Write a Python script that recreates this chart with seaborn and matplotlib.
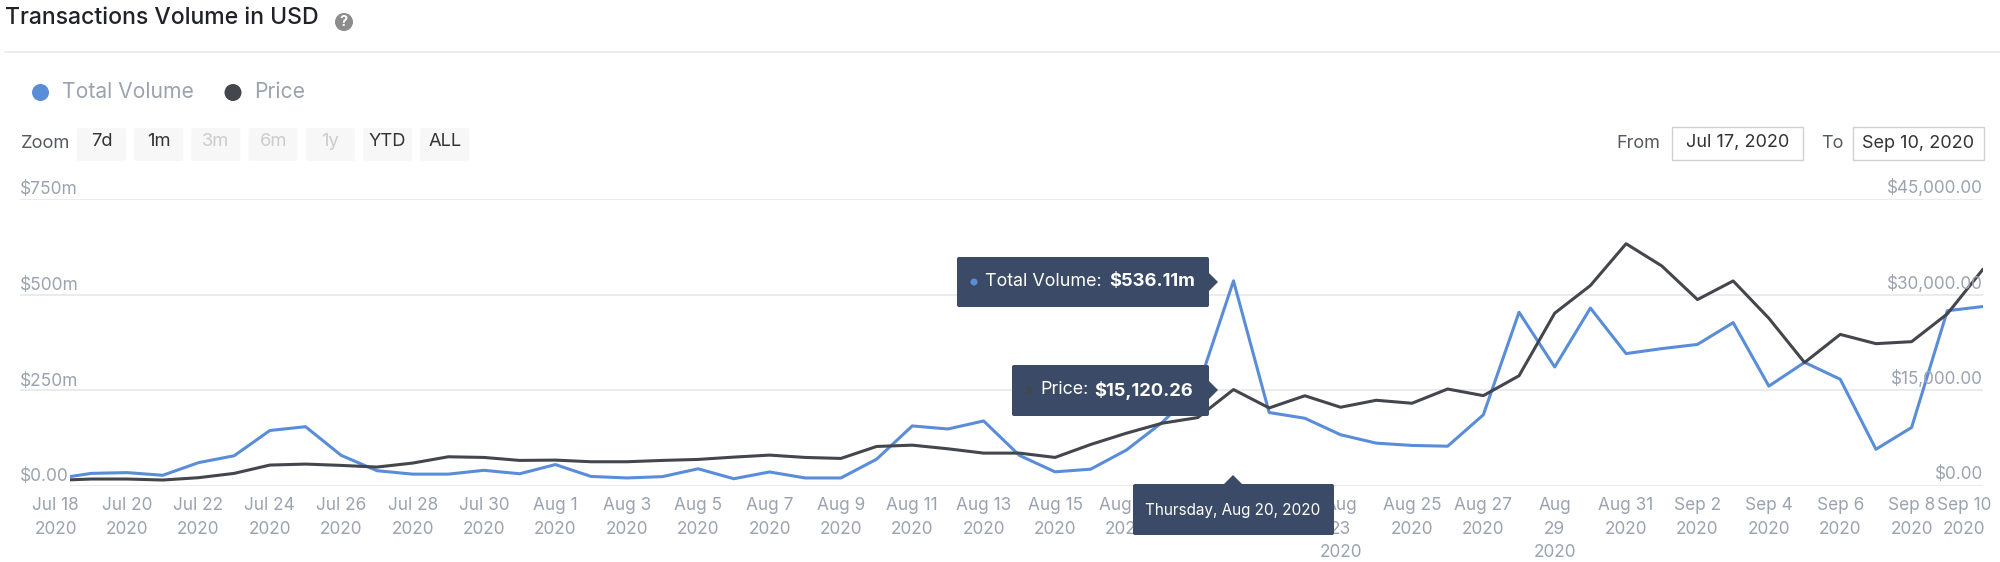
import pandas as pd
import matplotlib
matplotlib.use("Agg")
import matplotlib.pyplot as plt
import matplotlib.transforms as mtrans
from matplotlib.patches import Circle, FancyBboxPatch, Polygon, Rectangle
import seaborn as sns

# values, one per day from Jul 17 to Sep 10 2020
dates = pd.date_range("2020-07-17", "2020-09-10", freq="D")
total_volume = [11, 19, 33, 35, 28, 61, 79, 145, 155, 80, 40, 31, 31, 41, 32,
                56, 25, 21, 24.5, 45, 19, 36.7, 21, 21, 70, 157, 149, 170, 80, 37, 44,
                94, 166, 256, 536.11, 192, 177, 134, 112, 106, 104, 186, 454, 311, 465, 346,
                359, 370, 427, 261, 323, 279, 96, 153, 458, 469]
price = [830, 885, 1094, 1094, 937, 1302, 1979, 3281, 3437, 3229, 2969, 3594, 4583, 4479, 4010,
         4062, 3802, 3802, 4010, 4167, 4531, 4844, 4479, 4323, 6198, 6406, 5833, 5156, 5156, 4479, 6510,
         8281, 9844, 10729, 15120.26, 12240, 14150, 12350, 13442, 12975, 15207, 14169, 17283, 27100, 31434, 37987,
         34506, 29232, 32150, 26300, 19359, 23771, 22318, 22630, 26988, 33994]

tick_dates = pd.date_range("2020-07-18", "2020-09-10", freq="2D")
tick_labels = [d.strftime("%b ") + str(d.day) + "\n2020" for d in tick_dates]
wrapped = {"2020-08-23": "Aug\n23\n2020", "2020-08-29": "Aug\n29\n2020"}
tick_labels = [wrapped.get(str(d.date()), l) for d, l in zip(tick_dates, tick_labels)]

vol_ticks = [0, 250, 500, 750]
vol_labels = ["$0.00", "$250m", "$500m", "$750m"]
price_ticks = [0, 15000, 30000, 45000]
price_labels = ["$0.00", "$15,000.00", "$30,000.00", "$45,000.00"]
zoom_buttons = ["7d", "1m", "3m", "6m", "1y", "YTD", "ALL"]
zoom_disabled = ["3m", "6m", "1y"]

BLUE = "#5a8dd8"
DARK = "#43464d"
GRID = "#e8e9eb"
GREY = "#9aa3af"
NAVY = "#3b4a66"

df = pd.DataFrame({"date": dates, "volume": total_volume, "price": price})

sns.set_style("white")
plt.rcParams["font.family"] = ["Inter", "DejaVu Sans"]

W, H = 2000, 562
fig = plt.figure(figsize=(W / 100, H / 100), dpi=100)
ax = fig.add_axes([20 / W, 1 - 486 / H, 1963 / W, 287 / H])
ax2 = ax.twinx()

sns.lineplot(data=df, x="date", y="volume", ax=ax, color=BLUE, linewidth=2.2, zorder=3)
sns.lineplot(data=df, x="date", y="price", ax=ax2, color=DARK, linewidth=2.2, zorder=3)

ax.set_xlim(dates[0], dates[-1])
ax.set_ylim(0, 750)
ax2.set_ylim(0, 45000)
ax.set_xlabel("")
ax.set_ylabel("")
ax2.set_xlabel("")
ax2.set_ylabel("")
ax.set_yticks(vol_ticks)
ax.set_yticklabels([])
ax2.set_yticks(price_ticks)
ax2.set_yticklabels([])
ax.grid(axis="y", color=GRID, linewidth=1.3)
ax.grid(axis="x", visible=False)
ax2.grid(False)
for a in (ax, ax2):
    a.tick_params(axis="y", length=0)
    for side in a.spines:
        a.spines[side].set_visible(False)

ax.set_xticks(tick_dates)
ax.set_xticklabels(tick_labels, fontsize=12.4, color=GREY, linespacing=1.5)
ax.tick_params(axis="x", length=0, pad=8)
# last label is pushed back so it stays inside the chart
last = ax.get_xticklabels()[-1]
last.set_transform(last.get_transform() + mtrans.ScaledTranslation(-19 / 100, 0, fig.dpi_scale_trans))

# y labels sit just above their gridlines
for v, l in zip(vol_ticks, vol_labels):
    box = dict(facecolor="white", edgecolor="none", pad=1) if v == 0 else None
    ax2.annotate(l, (0, v), xycoords=ax.get_yaxis_transform(), xytext=(0, 6.5), textcoords="offset points",
                 ha="left", va="center", fontsize=12.5, color=GREY, bbox=box, zorder=10)
for v, l in zip(price_ticks, price_labels):
    ax2.annotate(l, (1, v), xycoords=ax2.get_yaxis_transform(), xytext=(0, 8), textcoords="offset points",
                 ha="right", va="center", fontsize=12.3, color=GREY, zorder=10)

# overlay in pixel coordinates for the page furniture and tooltips
ov = fig.add_axes([0, 0, 1, 1], zorder=20)
ov.set_xlim(0, W)
ov.set_ylim(H, 0)
ov.axis("off")
ov.patch.set_alpha(0)

ov.text(5, 18, "Transactions Volume in USD", fontsize=16.6, fontweight="medium", color="#1f2329", va="center")
ov.add_patch(Circle((344, 22), 9, color="#8c8c8c", lw=0))
ov.text(344, 22, "?", fontsize=10.5, fontweight="bold", color="white", ha="center", va="center")
ov.plot([5, 2000], [52, 52], color=GRID, lw=1.2)

# legend
ov.add_patch(Circle((40.5, 92.5), 8.5, color=BLUE, lw=0))
ov.text(62, 92.5, "Total Volume", fontsize=15.2, color=GREY, va="center")
ov.add_patch(Circle((233, 92.5), 8.5, color=DARK, lw=0))
ov.text(254, 92.5, "Price", fontsize=15.2, color=GREY, va="center")

# zoom buttons
ov.text(20.5, 144, "Zoom", fontsize=13.2, color="#555a60", va="center")
for i, b in enumerate(zoom_buttons):
    x0 = 77 + i * 57.2
    ov.add_patch(FancyBboxPatch((x0, 128), 49, 33, boxstyle="round,pad=0,rounding_size=2",
                                facecolor="#f7f7f7", edgecolor="none"))
    ov.text(x0 + 24.5, 142, b, fontsize=13.2, ha="center", va="center",
            color="#cccccc" if b in zoom_disabled else "#333333")

# date range inputs
ov.text(1616, 143, "From", fontsize=13, color="#555a60", va="center")
ov.text(1821, 143, "To", fontsize=13, color="#555a60", va="center")
for x0, w, s in [(1672, 131, "Jul 17, 2020"), (1853, 131, "Sep 10, 2020")]:
    ov.add_patch(Rectangle((x0, 127), w, 33, facecolor="white", edgecolor="#d0d0d0", lw=1))
    ov.text(x0 + w / 2, 143, s, fontsize=13, color="#333333", ha="center", va="center")

# tooltips
def tip_box(x0, x1, y0, y1):
    ov.add_patch(FancyBboxPatch((x0, y0), x1 - x0, y1 - y0, boxstyle="round,pad=0,rounding_size=2",
                                facecolor=NAVY, edgecolor="none"))

tip_box(957, 1209, 257, 307)
ov.add_patch(Polygon([(1209, 273), (1218, 282), (1209, 291)], facecolor=NAVY, edgecolor="none"))
ov.add_patch(Circle((974, 282), 3.5, color=BLUE, lw=0))
ov.text(985, 282, "Total Volume:", fontsize=12.9, color="white", va="center")
ov.text(1195, 282, "$536.11m", fontsize=13.2, fontweight="bold", color="white", va="center", ha="right")

tip_box(1012, 1209, 365, 416)
ov.add_patch(Polygon([(1209, 381), (1218, 390), (1209, 399)], facecolor=NAVY, edgecolor="none"))
ov.add_patch(Circle((1029, 390), 3.5, color=DARK, lw=0))
ov.text(1040, 390, "Price:", fontsize=12.9, color="white", va="center")
ov.text(1193, 390, "$15,120.26", fontsize=13.2, fontweight="bold", color="white", va="center", ha="right")

tip_box(1133, 1334, 484, 535)
ov.add_patch(Polygon([(1224, 484), (1233, 475), (1242, 484)], facecolor=NAVY, edgecolor="none"))
ov.text(1233, 510, "Thursday, Aug 20, 2020", fontsize=11, color="white", ha="center", va="center")

fig.savefig("out.png", dpi=100)
